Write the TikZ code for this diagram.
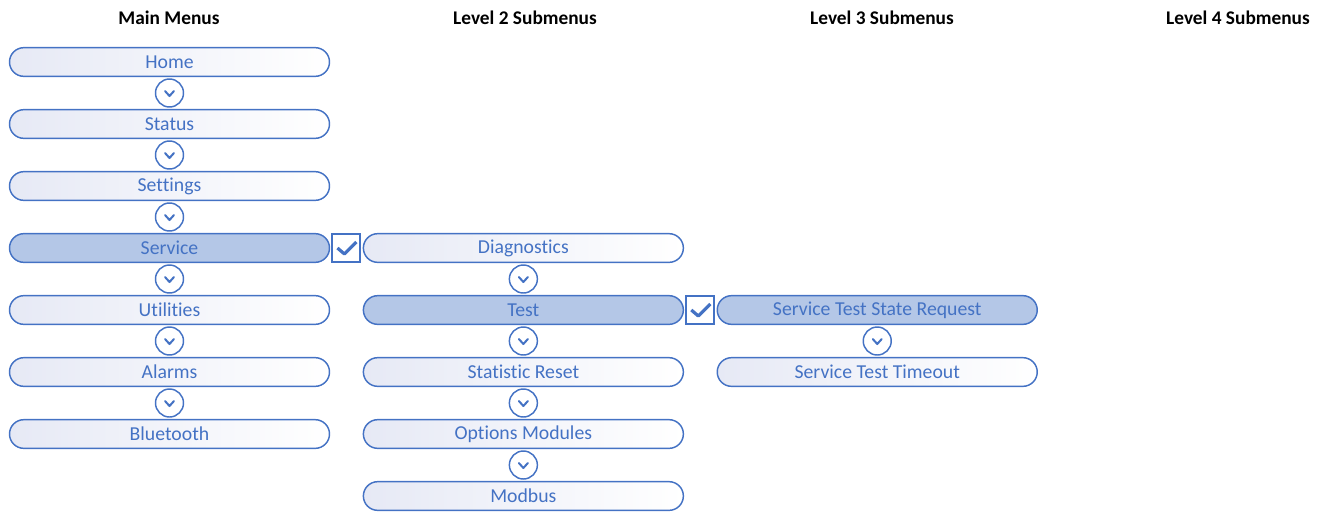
\documentclass[tikz,border=0pt]{standalone}
\usepackage{fontspec}
\setmainfont{Carlito}[Ligatures=NoCommon]
\usetikzlibrary{positioning, shapes.misc}
\definecolor{menublue}{HTML}{4472C4}
\definecolor{menusel}{HTML}{B4C7E7}
\definecolor{menupale}{HTML}{E6E9F5}

\begin{document}
\begin{tikzpicture}[x=0.75pt,y=-0.75pt,node distance=0.9pt,
        menu/.style={draw=menublue,line width=1.1pt,rounded rectangle,
          minimum width=240pt,minimum height=21.5pt,inner sep=0pt,
          left color=menupale,right color=white,text=menublue,
          font=\fontsize{14.8}{16}\selectfont},
        menuon/.style={menu,left color=menusel,right color=menusel},
        nextbtn/.style={draw=menublue,line width=1.1pt,circle,fill=white,
          minimum size=21pt,inner sep=0pt,
          path picture={\draw[menublue,line width=1.5pt,line cap=round,line join=round]
            ([shift={(-4.5,-2)}]path picture bounding box.center) --
            ([shift={(0,3)}]path picture bounding box.center) --
            ([shift={(4.5,-2)}]path picture bounding box.center);}},
        okbox/.style={draw=menublue,line width=1.5pt,fill=white,
          minimum size=21pt,inner sep=0pt,
          path picture={\draw[menublue,line width=2.4pt,line join=round]
            ([shift={(-9,0)}]path picture bounding box.center) --
            ([shift={(-2,6)}]path picture bounding box.center) --
            ([shift={(10,-6)}]path picture bounding box.center);}},
        title/.style={font=\bfseries\fontsize{14.5}{16}\selectfont}]
      \useasboundingbox (0,0) rectangle (1327,512);
      % column titles
      \node[title] (tmain) at (169,18) {Main Menus};
      \node[title] (tlev2) at (525,18) {Level 2 Submenus};
      \node[title] (tlev3) at (882,18) {Level 3 Submenus};
      \node[title] (tlev4) at (1238,18) {Level 4 Submenus};
      % main menus
      \node[menu] (home) at (169.5,62) {Home};
      \node[nextbtn,below=of home] (n1) {};
      \node[menu,below=of n1] (status) {Status};
      \node[nextbtn,below=of status] (n2) {};
      \node[menu,below=of n2] (settings) {Settings};
      \node[nextbtn,below=of settings] (n3) {};
      \node[menuon,below=of n3] (service) {Service};
      \node[nextbtn,below=of service] (n4) {};
      \node[menu,below=of n4] (utilities) {Utilities};
      \node[nextbtn,below=of utilities] (n5) {};
      \node[menu,below=of n5] (alarms) {Alarms};
      \node[nextbtn,below=of alarms] (n6) {};
      \node[menu,below=of n6] (bluetooth) {Bluetooth};
      % level 2
      \node[okbox,right=of service] (ok1) {};
      \node[menu,right=of ok1] (diag) {Diagnostics};
      \node[nextbtn,below=of diag] (m1) {};
      \node[menuon,below=of m1] (test) {Test};
      \node[nextbtn,below=of test] (m2) {};
      \node[menu,below=of m2] (statreset) {Statistic Reset};
      \node[nextbtn,below=of statreset] (m3) {};
      \node[menu,below=of m3] (options) {Options Modules};
      \node[nextbtn,below=of options] (m4) {};
      \node[menu,below=of m4] (modbus) {Modbus};
      % level 3
      \node[okbox,right=of test] (ok2) {};
      \node[menuon,right=of ok2] (staterq) {Service Test State Request};
      \node[nextbtn,below=of staterq] (k1) {};
      \node[menu,below=of k1] (timeout) {Service Test Timeout};
    \end{tikzpicture}
\end{document}
